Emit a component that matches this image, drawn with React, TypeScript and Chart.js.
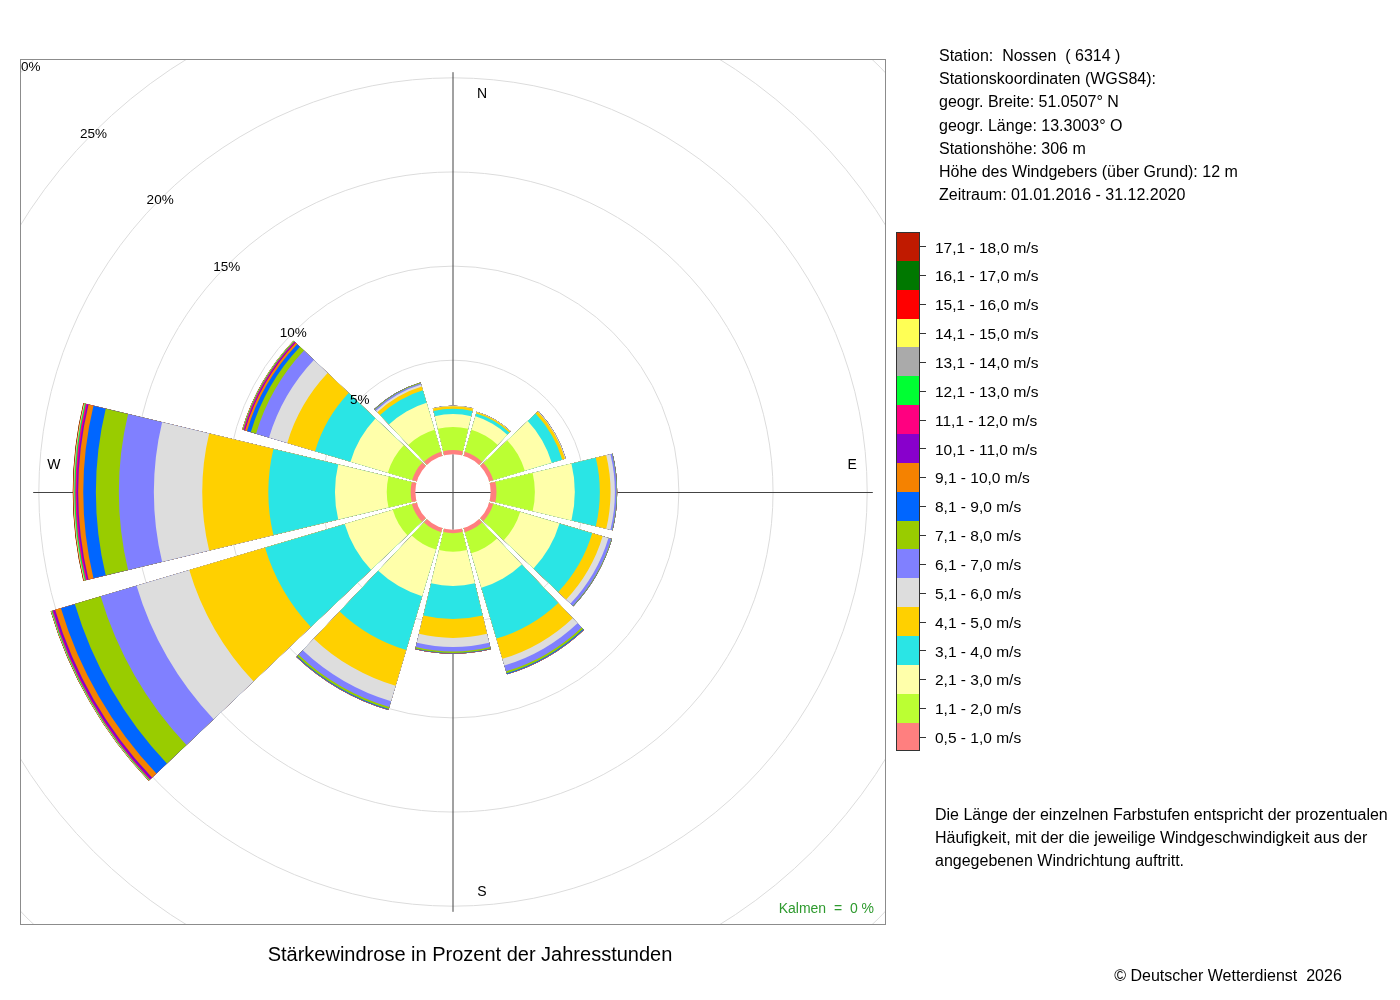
import React, { useEffect, useRef } from "react";
import { Chart, registerables } from "chart.js";

Chart.register(...registerables);

// ---------- data ----------
const directions = ["N", "NNO", "ONO", "O", "OSO", "SSO", "S", "SSW", "WSW", "W", "WNW", "NNW"];

const speedClasses = [
  "0,5 - 1,0 m/s", "1,1 - 2,0 m/s", "2,1 - 3,0 m/s", "3,1 - 4,0 m/s", "4,1 - 5,0 m/s",
  "5,1 - 6,0 m/s", "6,1 - 7,0 m/s", "7,1 - 8,0 m/s", "8,1 - 9,0 m/s", "9,1 - 10,0 m/s",
  "10,1 - 11,0 m/s", "11,1 - 12,0 m/s", "12,1 - 13,0 m/s", "13,1 - 14,0 m/s", "14,1 - 15,0 m/s",
  "15,1 - 16,0 m/s", "16,1 - 17,0 m/s", "17,1 - 18,0 m/s",
];

const classColors = [
  "#FF7F7F", "#BBFF33", "#FFFFAA", "#2AE5E5", "#FFD000", "#DDDDDD", "#8080FF", "#99CC00",
  "#0066FF", "#F58200", "#8800CC", "#FF0080", "#00FF33", "#AAAAAA", "#FFFF55", "#FF0000",
  "#007800", "#C01A00",
];

// percent of hours per direction (N, NNO, ONO, O, OSO, SSO, S, SSW, WSW, W, WNW, NNW)
const ws_05_10 = [0.23, 0.23, 0.23, 0.31, 0.23, 0.23, 0.19, 0.23, 0.28, 0.25, 0.26, 0.23];
const ws_11_20 = [1.22, 1.22, 1.75, 2.04, 1.49, 1.17, 0.98, 0.96, 1.06, 1.27, 1.35, 1.22];
const ws_21_30 = [0.69, 0.74, 1.49, 2.12, 2.18, 1.91, 1.82, 2.58, 2.66, 2.75, 2.07, 1.49];
const ws_31_40 = [0.28, 0.16, 0.58, 1.33, 1.81, 2.81, 1.75, 2.98, 4.41, 3.54, 1.96, 0.69];
const ws_41_50 = [0.14, 0.08, 0.16, 0.57, 0.58, 1.12, 1.01, 1.99, 4.2, 3.51, 1.54, 0.21];
const ws_51_60 = [0.02, 0.01, 0.03, 0.23, 0.32, 0.37, 0.48, 0.85, 2.92, 2.57, 1.01, 0.11];
const ws_61_70 = [0, 0, 0.01, 0.09, 0.16, 0.32, 0.24, 0.32, 1.99, 1.86, 0.72, 0.08];
const ws_71_80 = [0, 0, 0, 0.02, 0.03, 0.11, 0.08, 0.11, 1.43, 1.22, 0.29, 0.03];
const ws_81_90 = [0, 0, 0, 0.01, 0.01, 0.05, 0.03, 0.05, 0.77, 0.67, 0.21, 0.01];
const ws_91_100 = [0, 0, 0, 0, 0, 0.01, 0.01, 0.01, 0.32, 0.27, 0.11, 0];
const ws_101_110 = [0, 0, 0, 0, 0, 0, 0, 0, 0.11, 0.08, 0.05, 0];
const ws_111_120 = [0, 0, 0, 0, 0, 0, 0, 0, 0.05, 0.07, 0.05, 0];
const ws_121_130 = [0, 0, 0, 0, 0, 0, 0, 0, 0.04, 0.05, 0.03, 0];
const ws_131_140 = [0, 0, 0, 0, 0, 0, 0, 0, 0.02, 0.03, 0.01, 0];
const ws_141_150 = [0, 0, 0, 0, 0, 0, 0, 0, 0.01, 0.02, 0.01, 0];
const ws_151_160 = [0, 0, 0, 0, 0, 0, 0, 0, 0.01, 0.02, 0.01, 0];
const ws_161_170 = [0, 0, 0, 0, 0, 0, 0, 0, 0.01, 0.01, 0, 0];
const ws_171_180 = [0, 0, 0, 0, 0, 0, 0, 0, 0, 0.01, 0, 0];

const classValues = [
  ws_05_10, ws_11_20, ws_21_30, ws_31_40, ws_41_50, ws_51_60, ws_61_70, ws_71_80, ws_81_90,
  ws_91_100, ws_101_110, ws_111_120, ws_121_130, ws_131_140, ws_141_150, ws_151_160,
  ws_161_170, ws_171_180,
];

const ringTicks = [-2, 0, 5, 10, 15, 20, 25, 30, 35];
const ringLabelValues = [5, 10, 15, 20, 25, 30];

const stationLines = [
  "Station:  Nossen  ( 6314 )",
  "Stationskoordinaten (WGS84):",
  "geogr. Breite: 51.0507° N",
  "geogr. Länge: 13.3003° O",
  "Stationshöhe: 306 m",
  "Höhe des Windgebers (über Grund): 12 m",
  "Zeitraum: 01.01.2016 - 31.12.2020",
];
const descriptionLines = [
  "Die Länge der einzelnen Farbstufen entspricht der prozentualen",
  "Häufigkeit, mit der die jeweilige Windgeschwindigkeit aus der",
  "angegebenen Windrichtung auftritt.",
];
const titleText = "Stärkewindrose in Prozent der Jahresstunden";
const copyrightText = "© Deutscher Wetterdienst  2026";
const calmText = "Kalmen  =  0 %";

// ---------- layout constants ----------
const SECTOR_DEG = 27;
const GAP_DEG = 3;
const R_MIN = -2;
const R_MAX = 21;
const AXIS_LEN = 20.3; // in % units
const COMPASS_R = 19.2; // in % units
const FONT = '"Liberation Sans", Arial, Helvetica, sans-serif';

function buildDatasets() {
  const cum = directions.map(() => 0);
  return classValues.map((vals, ci) => {
    const data: number[] = [];
    directions.forEach((_, d) => {
      cum[d] += vals[d];
      data.push(+cum[d].toFixed(3));
      data.push(0);
    });
    const color = classColors[ci];
    return {
      label: speedClasses[ci],
      data,
      borderWidth: 0,
      backgroundColor: (c: any) => (c.dataIndex % 2 === 1 ? "rgba(0,0,0,0)" : color),
      angle: (c: any) => (c.dataIndex % 2 === 1 ? GAP_DEG : SECTOR_DEG),
    };
  });
}

const overlayPlugin = {
  id: "roseOverlay",
  beforeDraw(chart: any) {
    const { ctx, chartArea: a } = chart;
    ctx.save();
    ctx.beginPath();
    ctx.rect(a.left, a.top, a.right - a.left, a.bottom - a.top);
    ctx.clip();
  },
  beforeDatasetsDraw(chart: any) {
    const ctx = chart.ctx;
    ctx.restore();
    const s = chart.scales.r;
    const cx = s.xCenter;
    const cy = s.yCenter;
    const len = s.getDistanceFromCenterForValue(AXIS_LEN);
    ctx.save();
    ctx.strokeStyle = "#444";
    ctx.lineWidth = 1;
    ctx.beginPath();
    ctx.moveTo(cx, cy - len);
    ctx.lineTo(cx, cy + len);
    ctx.moveTo(cx - len, cy + 0.5);
    ctx.lineTo(cx + len, cy + 0.5);
    ctx.stroke();
    ctx.restore();
  },
  afterDatasetsDraw(chart: any) {
    const ctx = chart.ctx;
    const a = chart.chartArea;
    const s = chart.scales.r;
    const cx = s.xCenter;
    const cy = s.yCenter;
    const hole = s.getDistanceFromCenterForValue(0);
    ctx.save();
    // calm hole
    ctx.fillStyle = "#fff";
    ctx.beginPath();
    ctx.arc(cx, cy, hole, 0, Math.PI * 2);
    ctx.fill();
    ctx.strokeStyle = "#444";
    ctx.lineWidth = 1;
    ctx.beginPath();
    ctx.moveTo(cx, cy - hole);
    ctx.lineTo(cx, cy + hole);
    ctx.moveTo(cx - hole, cy + 0.5);
    ctx.lineTo(cx + hole, cy + 0.5);
    ctx.stroke();

    // ring labels along NW diagonal
    ctx.beginPath();
    ctx.rect(a.left, a.top, a.right - a.left, a.bottom - a.top);
    ctx.clip();
    ctx.fillStyle = "#000";
    ctx.font = `13.5px ${FONT}`;
    ctx.textAlign = "center";
    ctx.textBaseline = "middle";
    ringLabelValues.forEach((v) => {
      const r = s.getDistanceFromCenterForValue(v);
      const d = r * Math.SQRT1_2;
      ctx.fillText(`${v}%`, cx - d, cy - d + 1.5);
    });

    // compass labels
    const cr = s.getDistanceFromCenterForValue(COMPASS_R);
    ctx.font = `14px ${FONT}`;
    ctx.fillText("N", cx + 29, cy - cr + 1);
    ctx.fillText("E", cx + cr, cy - 27);
    ctx.fillText("S", cx + 29, cy + cr + 1);
    ctx.fillText("W", cx - cr, cy - 27);

    // calm text
    ctx.fillStyle = "#2E9A2E";
    ctx.textAlign = "right";
    ctx.font = `14px ${FONT}`;
    ctx.fillText(calmText, a.right - 12, a.bottom - 16);
    ctx.restore();

    // frame
    ctx.save();
    ctx.strokeStyle = "#8c8c8c";
    ctx.lineWidth = 1;
    ctx.strokeRect(a.left + 0.5, a.top + 0.5, a.right - a.left - 1, a.bottom - a.top - 1);
    ctx.restore();
  },
};

export default function App() {
  const ref = useRef<HTMLCanvasElement>(null);

  useEffect(() => {
    const canvas = ref.current;
    if (!canvas) return;
    const labels: string[] = [];
    directions.forEach((d) => {
      labels.push(d);
      labels.push("");
    });
    const chart = new Chart(canvas, {
      type: "polarArea",
      data: { labels, datasets: buildDatasets() as any },
      options: {
        animation: false,
        responsive: false,
        devicePixelRatio: 1,
        layout: { padding: { left: 20, top: 59, right: 514, bottom: 75 } },
        plugins: {
          legend: { display: false },
          tooltip: { enabled: false },
        },
        scales: {
          r: {
            min: R_MIN,
            max: R_MAX,
            startAngle: -SECTOR_DEG / 2,
            ticks: { display: false },
            pointLabels: { display: false },
            angleLines: { display: false },
            grid: {
              circular: true,
              lineWidth: 1,
              color: (c: any) => (c.tick && c.tick.value > 0 ? "#dcdcdc" : "rgba(0,0,0,0)"),
            },
            afterBuildTicks: (scale: any) => {
              scale.ticks = ringTicks.map((v) => ({ value: v }));
            },
          } as any,
        },
      } as any,
      plugins: [overlayPlugin as any],
    });
    return () => chart.destroy();
  }, []);

  const rowH = 28.86;
  const legendTop = 232;
  const legendOrder = speedClasses.map((_, i) => speedClasses.length - 1 - i);

  return (
    <div
      style={{
        position: "absolute",
        left: 0,
        top: 0,
        width: 1400,
        height: 1000,
        fontFamily: FONT,
        color: "#000",
        background: "#fff",
      }}
    >
      <canvas ref={ref} width={1400} height={1000} style={{ position: "absolute", left: 0, top: 0 }} />

      <div style={{ position: "absolute", left: 939, top: 44, fontSize: 16, lineHeight: "23.2px", whiteSpace: "pre" }}>
        {stationLines.map((l) => (
          <div key={l}>{l}</div>
        ))}
      </div>

      <div
        style={{
          position: "absolute",
          left: 896,
          top: legendTop,
          width: 24,
          height: rowH * speedClasses.length,
          border: "1px solid #333",
          boxSizing: "border-box",
          overflow: "hidden",
        }}
      >
        {legendOrder.map((ci, i) => (
          <div
            key={ci}
            style={{
              position: "absolute",
              left: 0,
              top: i * rowH - 1,
              width: 24,
              height: rowH,
              background: classColors[ci],
            }}
          />
        ))}
      </div>
      {legendOrder.map((ci, i) => (
        <React.Fragment key={"l" + ci}>
          <div
            style={{
              position: "absolute",
              left: 920,
              top: Math.round(legendTop + i * rowH + rowH / 2),
              width: 6,
              height: 1,
              background: "#333",
            }}
          />
          <div
            style={{
              position: "absolute",
              left: 935,
              top: legendTop + i * rowH + 1.5,
              height: rowH,
              lineHeight: rowH + "px",
              fontSize: 15.5,
              whiteSpace: "pre",
            }}
          >
            {speedClasses[ci]}
          </div>
        </React.Fragment>
      ))}

      <div style={{ position: "absolute", left: 935, top: 803, fontSize: 16, lineHeight: "23px", whiteSpace: "pre" }}>
        {descriptionLines.map((l) => (
          <div key={l}>{l}</div>
        ))}
      </div>

      <div
        style={{
          position: "absolute",
          left: 0,
          top: 942,
          width: 940,
          textAlign: "center",
          fontSize: 20,
          lineHeight: "24px",
        }}
      >
        {titleText}
      </div>

      <div
        style={{
          position: "absolute",
          left: 1028,
          top: 965,
          width: 400,
          textAlign: "center",
          fontSize: 16,
          lineHeight: "22px",
          whiteSpace: "pre",
        }}
      >
        {copyrightText}
      </div>
    </div>
  );
}
